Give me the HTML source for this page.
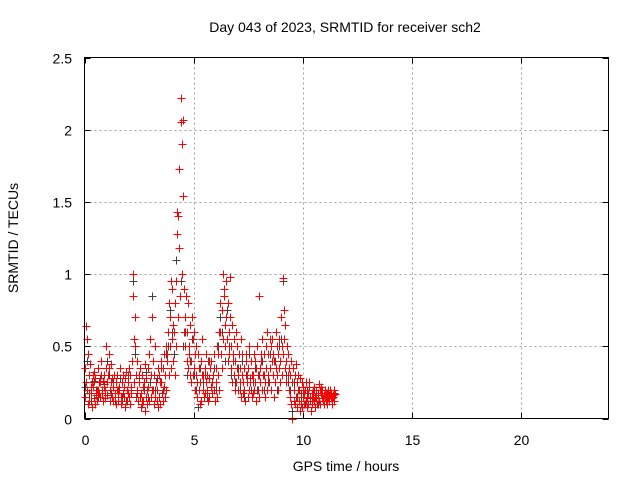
<!DOCTYPE html>
<html><head><meta charset="utf-8"><style>
body{margin:0;background:#fff}
svg{display:block;font-family:"Liberation Sans",sans-serif}
</style></head><body>
<svg id="chart" width="640" height="480" viewBox="0 0 640 480" xmlns="http://www.w3.org/2000/svg">
<rect width="640" height="480" fill="#fff"/>
<text x="345" y="32" font-size="14" text-anchor="middle">Day 043 of 2023, SRMTID for receiver sch2</text>
<text x="0" y="0" font-size="14" text-anchor="middle" transform="translate(18,238) rotate(-90)">SRMTID / TECUs</text>
<text x="346" y="471" font-size="14" text-anchor="middle">GPS time / hours</text>
<g id="grid"></g>
<g id="ticks"></g>
<g id="black-series"></g>
<g id="red-series"></g>
<rect x="84.5" y="57.5" width="524" height="361" fill="none" stroke="#000" stroke-width="1"/>
</svg>
<script>
const xTicks=[0,5,10,15,20];
const yTicks=[0,0.5,1,1.5,2,2.5];
const yTickLabels=["0","0.5","1","1.5","2","2.5"];
const epochs=[0,0.1,0.2,0.3,0.4,0.5,0.6,0.7,0.8,0.9,1.0,1.1,1.2,1.3,1.4,1.5,1.6,1.7,1.8,1.9,2.0,2.1,2.2,2.3,2.4,2.5,2.6,2.7,2.8,2.9,3.0,3.1,3.2,3.3,3.4,3.5,3.6,3.7,3.8,3.9,4.0,4.1,4.2,4.3,4.4,4.5,4.6,4.7,4.8,4.9,5.0,5.1,5.2,5.3,5.4,5.5,5.6,5.7,5.8,5.9,6.0,6.1,6.2,6.3,6.4,6.5,6.6,6.7,6.8,6.9,7.0,7.1,7.2,7.3,7.4,7.5,7.6,7.7,7.8,7.9,8.0,8.1,8.2,8.3,8.4,8.5,8.6,8.7,8.8,8.9,9.0,9.1,9.2,9.3,9.4,9.5,9.6,9.7,9.8,9.9,10.0,10.1,10.2,10.3,10.4,10.5,10.6,10.7,10.8,10.9,11.0,11.1,11.2,11.3,11.4];
const redVals=[
[.15,.35,.64,.25],[.55,.2,.45,.1],[.3,.12,.38,.22],[.18,.08,.25,.3],[.22,.14,.32,.1],[.28,.16,.2,.12],[.35,.2,.18,.25],[.15,.25,.3,.4],[.18,.12,.26,.22],[.3,.2,.14,.35],
[.5,.25,.16,.3],[.45,.35,.2,.12],[.38,.25,.15,.28],[.22,.12,.3,.18],[.15,.25,.1,.2],[.3,.18,.12,.22],[.2,.35,.15,.1],[.25,.12,.18,.3],[.15,.22,.08,.28],[.32,.2,.12,.18],
[.25,.35,.15,.1],[.3,.18,.22,.4],[.85,1.0,.55,.25],[.7,.5,.3,.15],[.4,.2,.12,.3],[.25,.15,.35,.08],[.18,.3,.12,.22],[.12,.25,.05,.38],[.28,.15,.2,.1],[.35,.22,.12,.45],
[.55,.3,.15,.2],[.7,.4,.2,.1],[.3,.5,.15,.25],[.2,.12,.35,.08],[.15,.3,.1,.25],[.25,.4,.18,.12],[.35,.22,.45,.15],[.3,.5,.2,.4],[.45,.6,.3,.8],[.7,.5,.95,.35],
[.55,.9,.4,.65],[.6,.8,.3,.5],[.95,1.28,1.43,.7],[1.4,1.73,1.18,.85],[2.22,2.05,1.9,1.0],[2.07,1.54,.9,.6],[.7,.5,.85,.4],[.6,.35,.8,.45],[.5,.3,.65,.25],[.4,.7,.55,.3],
[.6,.35,.2,.45],[.3,.5,.15,.25],[.45,.2,.35,.1],[.25,.4,.12,.3],[.55,.3,.2,.15],[.35,.18,.25,.45],[.2,.3,.12,.4],[.28,.15,.35,.22],[.4,.25,.18,.3],[.3,.45,.2,.12],
[.25,.35,.5,.15],[.45,.3,.2,.6],[.6,.8,.45,.35],[.75,1.0,.55,.9],[.85,.65,.5,.95],[.7,.55,.8,.4],[.6,.45,.98,.7],[.5,.35,.65,.25],[.45,.3,.55,.2],[.4,.6,.25,.35],
[.5,.3,.2,.45],[.35,.25,.55,.15],[.3,.45,.18,.25],[.2,.35,.12,.4],[.45,.25,.3,.15],[.35,.5,.2,.28],[.25,.4,.15,.3],[.3,.18,.45,.2],[.4,.25,.12,.35],[.5,.3,.2,.15],
[.85,.35,.25,.45],[.4,.2,.55,.3],[.3,.45,.15,.25],[.5,.35,.6,.2],[.45,.3,.25,.55],[.35,.5,.2,.4],[.55,.3,.45,.15],[.4,.25,.6,.35],[.5,.3,.2,.45],[.35,.55,.25,.4],
[.7,.5,.3,.45],[.97,.75,.55,.35],[.65,.4,.25,.5],[.45,.3,.2,.35],[.3,.15,.4,.1],[.25,0,.35,.12],[.2,.3,.1,.38],[.15,.25,.08,.3],[.2,.12,.28,.05],[.1,.18,.25,.08],
[.15,.22,.1,.18],[.2,.12,.25,.08],[.14,.18,.1,.22],[.25,.12,.15,.05],[.18,.1,.2,.14],[.12,.22,.15,.08],[.2,.14,.1,.18],[.16,.24,.12,.2],[.1,.18,.22,.14],[.2,.12,.16,.1],
[.15,.2,.12,.18],[.18,.1,.14,.2],[.12,.16,.2,.15],[.18,.14,.1,.16],[.15,.2,.12,.17]];
const blackVals=[
.22,.4,.18,.12,.26,.2,.15,.28,.2,.24,.4,.3,.18,.25,.12,.2,.28,.15,.22,.12,
.3,.2,.95,.45,.18,.28,.1,.2,.32,.15,.25,.85,.2,.28,.15,.35,.2,.45,.5,.75,
.6,.45,1.1,1.73,.95,.5,.6,.3,.4,.55,.3,.2,.08,.35,.25,.3,.15,.4,.22,.35,
.2,.5,.7,.6,.4,.75,.5,.3,.4,.25,.35,.2,.4,.15,.3,.45,.2,.25,.35,.2,
.3,.4,.2,.35,.25,.45,.3,.4,.2,.5,.55,.95,.3,.25,.2,.05,.25,.15,.2,.12,
.18,.1,.2,.15,.12,.2,.16,.1,.18,.14,.2,.12,.16,.14,.18];

const X0=84.5,X1=608.5,Y0=418.5,Y1=57.5,XMAX=24,YMAX=2.5;
function xs(v){return X0+(X1-X0)*v/XMAX;}
function ys(v){return Y0-(Y0-Y1)*v/YMAX;}
const NS="http://www.w3.org/2000/svg";
const grid=document.getElementById('grid'),ticks=document.getElementById('ticks');
function line(p,x1,y1,x2,y2,st,dash){const l=document.createElementNS(NS,'line');l.setAttribute('x1',x1);l.setAttribute('y1',y1);l.setAttribute('x2',x2);l.setAttribute('y2',y2);l.setAttribute('stroke',st);l.setAttribute('stroke-width',1);if(dash)l.setAttribute('stroke-dasharray',dash);p.appendChild(l);return l;}
function txt(p,x,y,s,anchor){const t=document.createElementNS(NS,'text');t.setAttribute('x',x);t.setAttribute('y',y);t.setAttribute('font-size',14);t.setAttribute('text-anchor',anchor);t.textContent=s;p.appendChild(t);return t;}
xTicks.forEach(v=>{const x=Math.round(xs(v))+0.5;
 if(v>0){const g=line(grid,x,Y1,x,Y0,'#a0a0a0','2,3');
 
 }
 line(ticks,x,Y0,x,Y0-6,'#000');line(ticks,x,Y1,x,Y1+6,'#000');
 const t=txt(ticks,x,445,String(v),'middle');
 
 });
yTicks.forEach((v,i)=>{const y=Math.round(ys(v))+0.5;
 if(v>0&&v<YMAX){const g=line(grid,X0,y,X1,y,'#a0a0a0','2,3');
 
 }
 line(ticks,X0,y,X0+6,y,'#000');line(ticks,X1,y,X1-6,y,'#000');
 const t=txt(ticks,72,y+5,yTickLabels[i],'end');
 
 });
function plus(p,x,y,c,name){const g=document.createElementNS(NS,'path');
 g.setAttribute('d','M'+(x-4)+' '+y+'H'+(x+4)+'M'+x+' '+(y-4)+'V'+(y+4));
 g.setAttribute('stroke',c);g.setAttribute('stroke-width',1);g.setAttribute('fill','none');
 
 
 p.appendChild(g);}
const bg=document.getElementById('black-series'),rg=document.getElementById('red-series');
epochs.forEach((t,i)=>{plus(bg,Math.round(xs(t+0.0125))+0.5,Math.round(ys(blackVals[i]))+0.5,'#404040','black-point');});
epochs.forEach((t,i)=>{redVals[i].forEach((v,k)=>{plus(rg,Math.round(xs(t+k*0.025))+0.5,Math.round(ys(v))+0.5,'#ff0000','red-point');});});
</script>
</body></html>
